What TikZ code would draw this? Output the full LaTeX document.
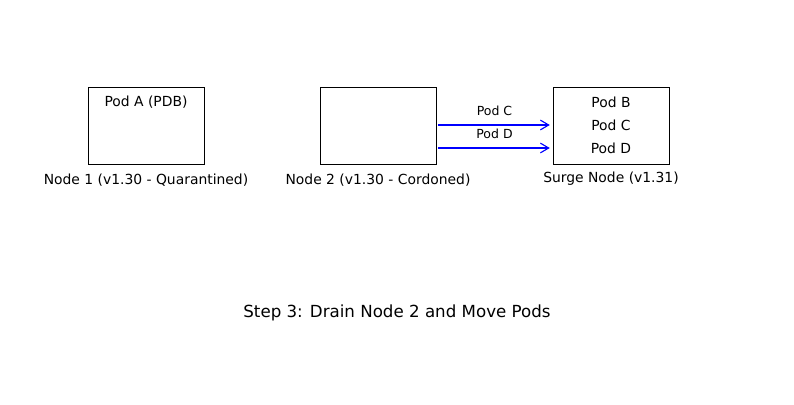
\documentclass[tikz,border=0pt]{standalone}
\usepackage{fontspec}
\setmainfont{DejaVu Sans}
\usetikzlibrary{arrows.meta}
\begin{document}
\begin{tikzpicture}[x=0.72pt,y=-0.72pt]
\tikzstyle{nodebox}=[draw,line width=0.65pt,minimum width=83.5pt,minimum height=55.4pt,inner sep=0pt]
\tikzstyle{podtext}=[inner sep=0pt,font=\fontsize{10pt}{12pt}\selectfont]
\tikzstyle{movetext}=[inner sep=0pt,font=\fontsize{9pt}{11pt}\selectfont]
\tikzstyle{move}=[-{Straight Barb[length=6pt,width=7pt]},blue,line width=0.8pt]

\useasboundingbox (0,0) rectangle (794,405);

\node[nodebox] (node1) at (146,125.5) {};
\node[nodebox] (node2) at (378,125.5) {};
\node[nodebox] (surge) at (611,125.5) {};

\node[podtext] (node1lbl) at (146,180) {Node 1 (v1.30 - Quarantined)};
\node[podtext] (node2lbl) at (378,180) {Node 2 (v1.30 - Cordoned)};
\node[podtext] (surgelbl) at (611,179) {Surge Node (v1.31)};

\node[podtext] (podA) at (146,102) {Pod A (PDB)};
\node[podtext] (podB) at (611,102) {Pod B};
\node[podtext] (podC) at (611,125) {Pod C};
\node[podtext] (podD) at (611,148) {Pod D};

\draw[move] ([xshift=1pt]node2.east |- podC) -- ([xshift=-2pt]surge.west |- podC);
\draw[move] ([xshift=1pt]node2.east |- podD) -- ([xshift=-2pt]surge.west |- podD);

\node[movetext] (movC) at (494.5,110.5) {Pod C};
\node[movetext] (movD) at (494.5,133.5) {Pod D};

\node[inner sep=0pt,font=\fontsize{12pt}{14pt}\selectfont] (title) at (397,313) {Step 3: Drain Node 2 and Move Pods};

\end{tikzpicture}
\end{document}
